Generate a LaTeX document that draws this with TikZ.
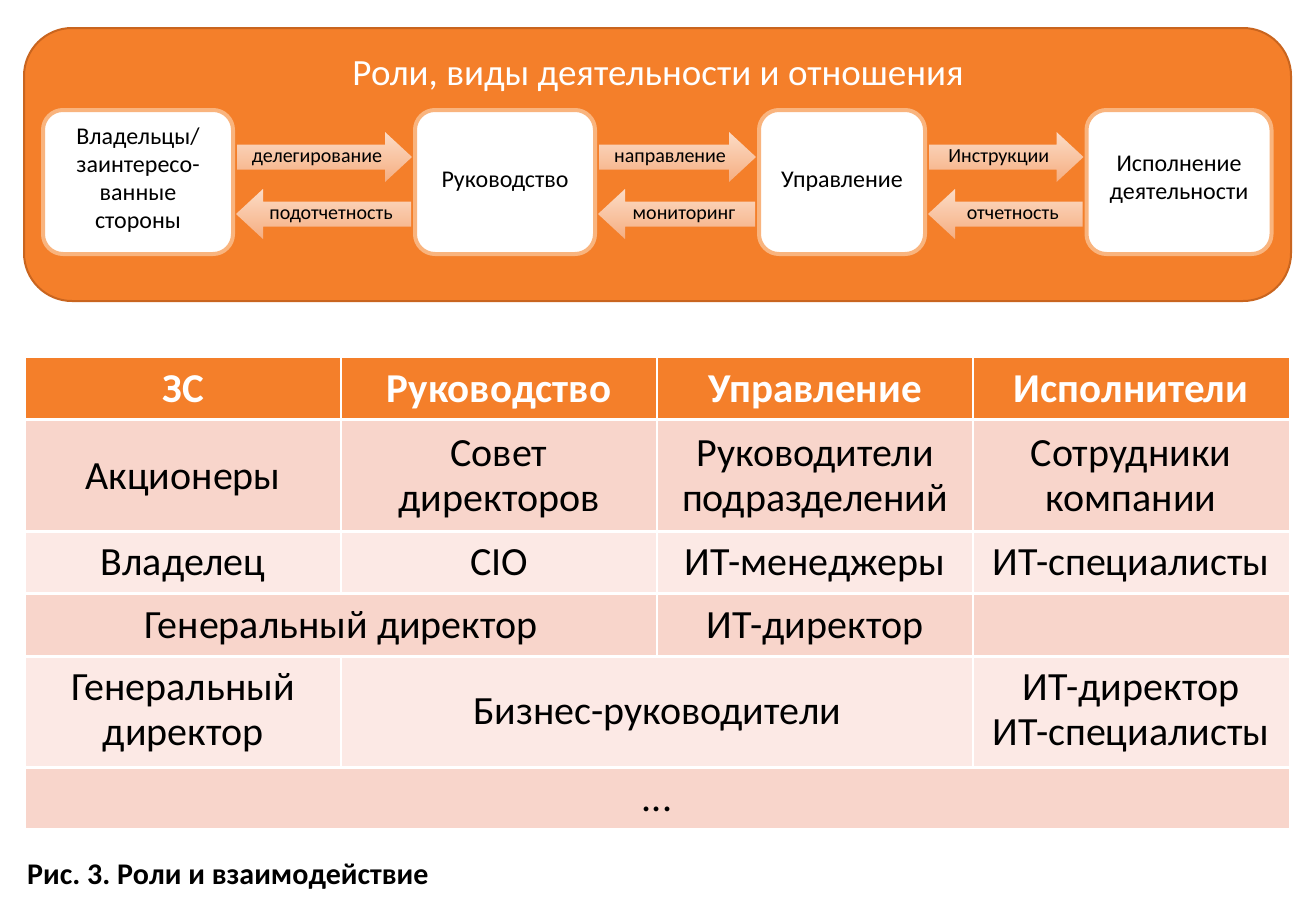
\documentclass[tikz,border=0pt]{standalone}
\usepackage{fontspec}
\setmainfont{Carlito}
\frenchspacing
\usetikzlibrary{calc}
\definecolor{orng}{HTML}{F47F2A}
\definecolor{orngdark}{HTML}{C9651F}
\definecolor{glow}{HTML}{F9B47E}
\definecolor{arrtop}{HTML}{FCDCC6}
\definecolor{arrbot}{HTML}{F5AD80}
\definecolor{rowdark}{HTML}{F8D5CB}
\definecolor{rowlight}{HTML}{FCE9E5}
\tikzset{
  wbox/.style={draw=glow, line width=4pt, fill=white, rounded corners=20pt, minimum height=144pt, align=center, inner sep=0pt, font=\fontsize{24}{28}\selectfont, execute at begin node=\strut, execute at end node=\strut},
  lbl/.style={font=\fontsize{20}{24}\selectfont, inner sep=0pt, anchor=base},
  arrowshade/.style={top color=arrtop, bottom color=arrbot},
  cell/.style={font=\fontsize{40}{45}\selectfont, align=center, inner sep=0pt, anchor=base},
  head/.style={font=\fontsize{41}{45}\selectfont\bfseries, text=white, inner sep=0pt, anchor=base},
}
\newcommand\rarr[5]{% from, to, dy, label, name
  \shade[arrowshade] let \p1=(#1.east), \p2=(#2.west) in
   (\x1+2pt,\y1+#3pt+12.5pt) -- (\x2-28pt,\y1+#3pt+12.5pt) -- (\x2-28pt,\y1+#3pt+25pt) -- (\x2-1pt,\y1+#3pt) -- (\x2-28pt,\y1+#3pt-25pt) -- (\x2-28pt,\y1+#3pt-12.5pt) -- (\x1+2pt,\y1+#3pt-12.5pt) -- cycle;
  \path let \p1=(#1.east), \p2=(#2.west) in node[lbl] (#5) at ({(\x1+\x2-14pt)/2},\y1+#3pt-5pt) {#4};
}
\newcommand\larr[5]{% right node, left node, dy, label, name
  \shade[arrowshade] let \p1=(#1.west), \p2=(#2.east) in
   (\x1-2pt,\y1+#3pt+12.5pt) -- (\x2+28pt,\y1+#3pt+12.5pt) -- (\x2+28pt,\y1+#3pt+25pt) -- (\x2+1pt,\y1+#3pt) -- (\x2+28pt,\y1+#3pt-25pt) -- (\x2+28pt,\y1+#3pt-12.5pt) -- (\x1-2pt,\y1+#3pt-12.5pt) -- cycle;
  \path let \p1=(#1.west), \p2=(#2.east) in node[lbl] (#5) at ({(\x1+\x2+14pt)/2},\y1+#3pt-5pt) {#4};
}
\begin{document}
\begin{tikzpicture}[x=1pt,y=-1pt]
\useasboundingbox (0,0) rectangle (1314,918);
\fill[white] (0,0) rectangle (1314,918);
% top panel
\draw[draw=orngdark, line width=2pt, fill=orng, rounded corners=48pt] (24,28) rectangle (1291,301);
\node[text=white, font=\fontsize{37}{40}\selectfont, inner sep=0pt, anchor=base] (title) at (658,85) {Роли, виды деятельности и отношения};
\node[wbox, minimum width=190pt] (b1) at (138,182) {Владельцы/\\заинтересо-\\ванные\\стороны};
\node[wbox, minimum width=180pt] (b2) at (505,182) {Руководство};
\node[wbox, minimum width=166pt] (b3) at (842,182) {Управление};
\node[wbox, minimum width=185pt] (b4) at (1179,182) {Исполнение\\деятельности};
\rarr{b1}{b2}{25}{делегирование}{l1}
\larr{b2}{b1}{-32}{подотчетность}{l2}
\rarr{b2}{b3}{25}{направление}{l3}
\larr{b3}{b2}{-32}{мониторинг}{l4}
\rarr{b3}{b4}{25}{Инструкции}{l5}
\larr{b4}{b3}{-32}{отчетность}{l6}
% table backgrounds
\fill[orng] (26,358) rectangle (1289,418);
\fill[rowdark] (26,421) rectangle (1289,530);
\fill[rowlight] (26,532.5) rectangle (1289,592);
\fill[rowdark] (26,594.5) rectangle (1289,655);
\fill[rowlight] (26,657.5) rectangle (1289,766);
\fill[rowdark] (26,768.5) rectangle (1289,828);
% vertical separators
\foreach \x in {341,657,973} \draw[white, line width=1.5pt] (\x,358) -- (\x,592);
\foreach \x in {657,973} \draw[white, line width=1.5pt] (\x,594) -- (\x,655);
\foreach \x in {341,973} \draw[white, line width=1.5pt] (\x,657) -- (\x,766);
% header
\node[head] (h1) at (183,402) {ЗС};
\node[head] (h2) at (499,402) {Руководство};
\node[head] (h3) at (815,402) {Управление};
\node[head] (h4) at (1131,402) {Исполнители};
% row 1
\node[cell] (c11) at (183,489) {Акционеры};
\node[cell] (c12) at (499,511.5) {Совет\\директоров};
\node[cell] (c13) at (815,511.5) {Руководители\\подразделений};
\node[cell] (c14) at (1131,511.5) {Сотрудники\\компании};
% row 2
\node[cell] (c21) at (183,575) {Владелец};
\node[cell] (c22) at (499,575) {CIO};
\node[cell] (c23) at (815,575) {ИТ-менеджеры};
\node[cell] (c24) at (1131,575) {ИТ-специалисты};
% row 3
\node[cell] (c31) at (341,638) {Генеральный директор};
\node[cell] (c33) at (815,638) {ИТ-директор};
% row 4
\node[cell] (c41) at (183,745) {Генеральный\\директор};
\node[cell] (c42) at (657,724) {Бизнес-руководители};
\node[cell] (c44) at (1131,745) {ИТ-директор\\ИТ-специалисты};
% row 5
\node[cell] (c51) at (657,811) {...};
% caption
\node[anchor=base west, font=\fontsize{30}{34}\selectfont\bfseries, inner sep=0pt] (cap) at (27,884) {Рис. 3. Роли и взаимодействие};
\end{tikzpicture}
\end{document}
